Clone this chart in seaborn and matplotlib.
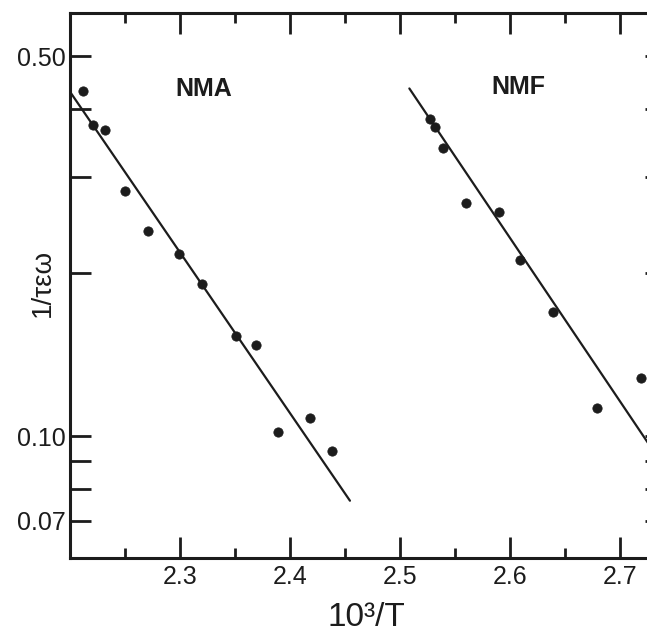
import matplotlib
matplotlib.use("Agg")
import matplotlib.pyplot as plt
import seaborn as sns
import pandas as pd

# NMA data points (10^3/T, 1/tau eps omega)
nma_x = [2.212, 2.221, 2.232, 2.250, 2.271, 2.299, 2.320, 2.351, 2.369, 2.389, 2.418, 2.438]
nma_y = [0.431, 0.373, 0.365, 0.283, 0.239, 0.216, 0.191, 0.153, 0.147, 0.1017, 0.108, 0.0942]

# NMF data points
nmf_x = [2.527, 2.532, 2.539, 2.560, 2.590, 2.609, 2.639, 2.679, 2.719]
nmf_y = [0.383, 0.370, 0.339, 0.269, 0.258, 0.211, 0.169, 0.113, 0.128]

# fitted lines (end points)
nma_fit_x = [2.200, 2.4545]
nma_fit_y = [0.430, 0.0762]
nmf_fit_x = [2.5085, 2.73]
nmf_fit_y = [0.436, 0.0943]

y_ticks = [0.5, 0.4, 0.3, 0.2, 0.1, 0.09, 0.08, 0.07]
y_ticklabels = ["0.50", "", "", "", "0.10", "", "", "0.07"]
x_major = [2.3, 2.4, 2.5, 2.6, 2.7]
x_minor = [2.25, 2.35, 2.45, 2.55, 2.65]

sns.set_style("ticks")
plt.rcParams['font.family'] = ['Liberation Sans', 'DejaVu Sans']

ink = "#1c1c1c"
fig = plt.figure(figsize=(6.47, 6.36), dpi=100)
# right spine sits just outside the picture, as in the scan
ax = fig.add_axes([70 / 647, 1 - 558 / 636, 596 / 647, 545 / 636])

df_nma = pd.DataFrame({"x": nma_x, "y": nma_y})
df_nmf = pd.DataFrame({"x": nmf_x, "y": nmf_y})
sns.lineplot(x=nma_fit_x, y=nma_fit_y, ax=ax, color=ink, lw=1.6)
sns.lineplot(x=nmf_fit_x, y=nmf_fit_y, ax=ax, color=ink, lw=1.6)
sns.scatterplot(data=df_nma, x="x", y="y", ax=ax, color=ink, s=45, edgecolor=ink, zorder=3)
sns.scatterplot(data=df_nmf, x="x", y="y", ax=ax, color=ink, s=45, edgecolor=ink, zorder=3)

ax.set_yscale("log")
ax.set_xlim(2.2, 2.2 + 596 / 1100)
ax.set_ylim(0.0598, 0.60)

ax.set_yticks(y_ticks)
ax.set_yticklabels(y_ticklabels)
ax.yaxis.set_minor_locator(matplotlib.ticker.NullLocator())
ax.set_xticks(x_major)
ax.set_xticklabels([f"{v:.1f}" for v in x_major])
ax.set_xticks(x_minor, minor=True)

ax.tick_params(axis="both", which="major", direction="in", length=15, width=2,
               color=ink, labelcolor=ink, top=True, right=True)
ax.tick_params(axis="y", which="major", labelsize=18, pad=3)
ax.tick_params(axis="x", which="major", labelsize=18, pad=5)
ax.tick_params(axis="x", which="minor", direction="in", length=7, width=2,
               color=ink, top=True)
for side in ["left", "bottom", "top", "right"]:
    ax.spines[side].set_linewidth(2.2)
    ax.spines[side].set_color(ink)

ax.text(2.3218, 0.435, "NMA", ha="center", va="center", fontsize=18,
        fontweight="bold", color=ink)
ax.text(2.608, 0.438, "NMF", ha="center", va="center", fontsize=18,
        fontweight="bold", color=ink)

ax.set_xlabel("10³/T", fontsize=24, color=ink)
ax.set_ylabel("1/τεω", fontsize=20, color=ink)
ax.xaxis.set_label_coords((366 - 70) / 596, -(633 - 558) / 545)
ax.xaxis.label.set_va("bottom")
ax.yaxis.set_label_coords(-(70 - 43) / 596, (558 - 283) / 545)
ax.yaxis.label.set_va("center")

fig.savefig("out.png", dpi=100, facecolor="white")
